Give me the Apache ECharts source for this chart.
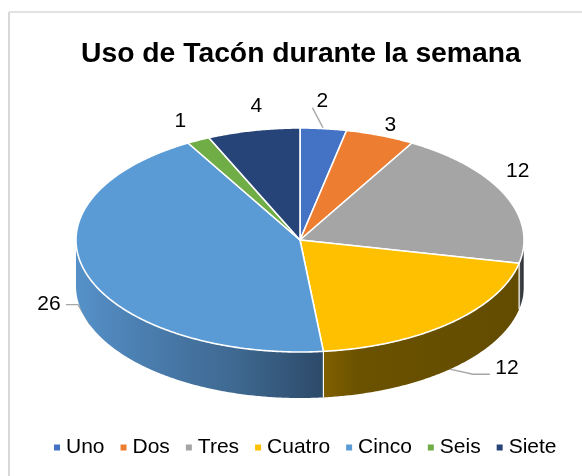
<!DOCTYPE html>
<html><head><meta charset="utf-8">
<style>html,body{margin:0;padding:0;background:#fff}#c{width:582px;height:476px}</style>
<script src="https://cdn.jsdelivr.net/npm/echarts@6/dist/echarts.min.js"></script>
</head><body><div id="c"></div>
<script>
const titleText = 'Uso de Tacón durante la semana';
const categories = ['Uno','Dos','Tres','Cuatro','Cinco','Seis','Siete'];
const values = [2,3,12,12,26,1,4];
const colors = ['#4472C4','#ED7D31','#A5A5A5','#FFC000','#5B9BD5','#70AD47','#264478'];

// Presentation only
const CX=300, CY=240, RX=224, RY=112, DEPTH=46;
const wallStops = {
  Tres:[[0,'#4a4d52'],[0.7,'#33363a'],[1,'#8d8f92']],
  Cuatro:[[0,'#806000'],[0.18,'#6b5200'],[1,'#624c00']],
  Cinco:[[0,'#5591c8'],[0.3,'#4a7cad'],[0.65,'#3e6890'],[1,'#2d4a69']]
};
const labelOffset = {Uno:[-1,-27],Dos:[10,-10],Tres:[13,-23],Cuatro:[57,45],Cinco:[-38,30],Seis:[-18,-19],Siete:[3,-24]};
const leaderOffset = {
  Uno:[[-11,-21],[0,0]],
  Cuatro:[[0,46],[23,51],[40,51]],
  Cinco:[[-21,30],[-9,30],[3,50]]
};
const total = values.reduce((a,b)=>a+b,0);
const pt = (deg,dy=0)=>{const t=deg*Math.PI/180;return [CX+RX*Math.sin(t),CY-RY*Math.cos(t)+dy];};
const arc = (a0,a1,dy=0)=>{const n=Math.max(2,Math.ceil((a1-a0)*2));const p=[];for(let i=0;i<=n;i++)p.push(pt(a0+(a1-a0)*i/n,dy));return p;};

function makeRender(idx){
  return function(params,api){
    const v = api.value(0);
    const before = values.slice(0,idx).reduce((a,b)=>a+b,0);
    const a0 = before/total*360, a1=(before+v)/total*360, mid=(a0+a1)/2;
    const name = categories[idx];
    const kids=[];
    const edge = pt(mid);
    if(leaderOffset[name]){
      kids.push({type:'polyline',z2:1,shape:{points:leaderOffset[name].map(o=>[edge[0]+o[0],edge[1]+o[1]])},
        style:{fill:null,stroke:'#a6a6a6',lineWidth:1.3}});
    }
    const w0=Math.max(a0,90), w1=Math.min(a1,270);
    if(w1>w0){
      const top=arc(w0,w1), bot=arc(w0,w1,DEPTH).reverse();
      const stops=(wallStops[name]||[[0,colors[idx]],[1,colors[idx]]]).map(s=>({offset:s[0],color:s[1]}));
      const grad = new echarts.graphic.LinearGradient(0,0,1,0,stops);
      kids.push({type:'polygon',z2:2,shape:{points:top.concat(bot)},style:{fill:grad,stroke:null}});
      if(a0>=90){
        kids.push({type:'line',z2:3,shape:{x1:pt(a0)[0],y1:pt(a0)[1],x2:pt(a0)[0],y2:pt(a0)[1]+DEPTH},style:{stroke:'#fff',lineWidth:1.2}});
      }
    }
    kids.push({type:'polygon',z2:5,shape:{points:[[CX,CY]].concat(arc(a0,a1))},
      style:{fill:colors[idx],stroke:'#fff',lineWidth:1.6,lineJoin:'round'}});
    const o=labelOffset[name];
    kids.push({type:'text',z2:6,style:{x:edge[0]+o[0],y:edge[1]+o[1],text:String(v),align:'center',verticalAlign:'middle',
      font:'21px "Liberation Sans"',fill:'#000'}});
    return {type:'group',children:kids};
  };
}

const chart = echarts.init(document.getElementById('c'),null,{renderer:'canvas'});
chart.setOption({
  animation:false,
  backgroundColor:'#fff',
  title:{text:titleText,left:81,top:40,padding:0,itemGap:0,
    textStyle:{fontFamily:'Liberation Sans',fontSize:28.3,fontWeight:'bold',color:'#000'}},
  legend:{data:categories,left:54,top:437,padding:0,itemGap:16,itemWidth:6,itemHeight:6,icon:'rect',selectedMode:false,
    textStyle:{fontFamily:'Liberation Sans',fontSize:21,color:'#000',padding:[0,0,0,1]}},
  graphic:[
    {type:'line',silent:true,shape:{x1:9,y1:12,x2:582,y2:12},style:{stroke:'#d9d9d9',lineWidth:1.5}},
    {type:'line',silent:true,shape:{x1:9,y1:12,x2:9,y2:476},style:{stroke:'#d9d9d9',lineWidth:2}}
  ],
  series:categories.map((name,i)=>({
    type:'custom',name,coordinateSystem:'none',renderItem:makeRender(i),
    data:[[values[i]]],itemStyle:{color:colors[i]},silent:true
  }))
});
</script></body></html>
